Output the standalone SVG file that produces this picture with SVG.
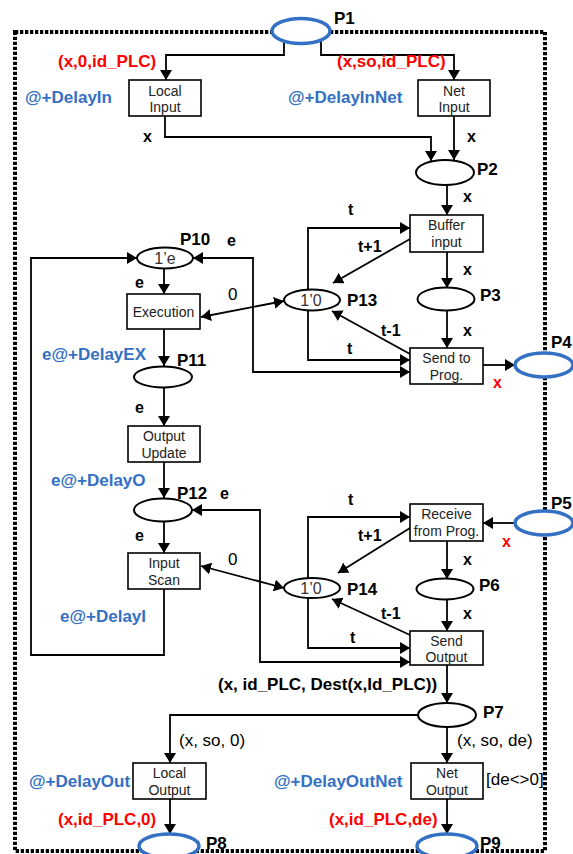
<svg xmlns="http://www.w3.org/2000/svg" width="573" height="854" viewBox="0 0 573 854">
<defs>
<marker id="ah" markerUnits="userSpaceOnUse" markerWidth="10" markerHeight="12" refX="10" refY="6" orient="auto-start-reverse"><path d="M0,0 L10,6 L0,12 z" fill="#000"/></marker>
<style>
text{font-family:"Liberation Sans",Arial,sans-serif}
.c{fill:none;stroke:#000;stroke-width:1.8}
.a{marker-end:url(#ah)}
.b{marker-start:url(#ah);marker-end:url(#ah)}
.box{fill:#fff;stroke:#000;stroke-width:1.6}
.bt{font-size:14px;fill:#222;text-anchor:middle}
.pl{fill:#fff;stroke:#000;stroke-width:2}
.pb{fill:#fff;stroke:#3470C4;stroke-width:3.5}
.pn{font-size:17px;font-weight:bold;fill:#000}
.tk{font-size:16px;fill:#333;text-anchor:middle}
.lb{font-size:16px;font-weight:bold;fill:#000}
.lr{font-size:17px;fill:#000}
.lB{font-size:17px;font-weight:bold;fill:#000}
.red{font-size:17px;font-weight:bold;fill:#FF0000}
.blue{font-size:17px;font-weight:bold;fill:#3470C4}
</style>
</defs>
<rect width="573" height="854" fill="#fff"/>
<rect id="border" x="15" y="32" width="530" height="819" fill="none" stroke="#000" stroke-width="4" stroke-dasharray="3.3 1.7"/>

<g id="connectors">
<path class="c a" d="M284,41 V55 H166 V80"/>
<path class="c a" d="M321,41 V55 H454 V80"/>
<path class="c a" d="M165,116 V137 H431 V161"/>
<path class="c a" d="M454,116 V160"/>
<path class="c a" d="M447,185 V215"/>
<path class="c a" d="M447,252 V288"/>
<path class="c a" d="M447,310 V348"/>
<path class="c a" d="M483,365 H515"/>
<path class="c a" d="M308,290 V228 H410"/>
<path class="c a" d="M410,239 L333,283"/>
<path class="c a" d="M410,354 L332,311"/>
<path class="c a" d="M308,310 V360 H410"/>
<path class="c b" d="M193,258 H253 V372 H410"/>
<path class="c b" d="M201,317 L284,301"/>
<path class="c a" d="M164,589 V655 H31 V258 H137"/>
<path class="c a" d="M164,268 V294"/>
<path class="c a" d="M164,329 V366"/>
<path class="c a" d="M164,388 V426"/>
<path class="c a" d="M164,462 V498"/>
<path class="c a" d="M164,522 V553"/>
<path class="c b" d="M192,510 H260 V662 H410"/>
<path class="c b" d="M201,566 L284,588"/>
<path class="c a" d="M308,578 V517 H410"/>
<path class="c a" d="M410,528 L338,573"/>
<path class="c a" d="M410,635 L332,599"/>
<path class="c a" d="M308,598 V648 H410"/>
<path class="c a" d="M515,523 H483"/>
<path class="c a" d="M447,541 V579"/>
<path class="c a" d="M447,600 V631"/>
<path class="c a" d="M447,665 V703"/>
<path class="c a" d="M418,715 H170 V763"/>
<path class="c a" d="M447,727 V763"/>
<path class="c a" d="M170,799 V834"/>
<path class="c a" d="M447,799 V834"/>
</g>

<g id="arc-labels">
<text class="red" x="58" y="67">(x,0,id_PLC)</text>
<text class="red" x="337" y="67">(x,so,id_PLC)</text>
<text class="blue" x="25" y="103">@+DelayIn</text>
<text class="blue" x="288" y="103">@+DelayInNet</text>
<text class="lb" x="143" y="142">x</text>
<text class="lb" x="467" y="142">x</text>
<text class="lb" x="463" y="202">x</text>
<text class="lb" x="348" y="215">t</text>
<text class="lb" x="358" y="252">t+1</text>
<text class="lb" x="463" y="275">x</text>
<text class="lb" x="381" y="336">t-1</text>
<text class="lb" x="463" y="336">x</text>
<text class="lb" x="347" y="354">t</text>
<text class="red" x="493" y="388" style="font-size:16px">x</text>
<text class="lb" x="227" y="246">e</text>
<text class="lb" x="135" y="288">e</text>
<text class="lr" x="228" y="300">0</text>
<text class="blue" x="42" y="360">e@+DelayEX</text>
<text class="lb" x="135" y="413">e</text>
<text class="blue" x="51" y="486">e@+DelayO</text>
<text class="lb" x="220" y="499">e</text>
<text class="lb" x="135" y="541">e</text>
<text class="lr" x="228" y="565">0</text>
<text class="blue" x="60" y="622">e@+DelayI</text>
<text class="lb" x="348" y="505">t</text>
<text class="red" x="502" y="547" style="font-size:16px">x</text>
<text class="lb" x="358" y="541">t+1</text>
<text class="lb" x="463" y="565">x</text>
<text class="lb" x="381" y="619">t-1</text>
<text class="lb" x="463" y="619">x</text>
<text class="lb" x="350" y="643">t</text>
<text class="lB" x="218" y="690">(x, id_PLC, Dest(x,Id_PLC))</text>
<text class="lr" x="179" y="746">(x, so, 0)</text>
<text class="lr" x="457" y="746">(x, so, de)</text>
<text class="blue" x="29" y="787">@+DelayOut</text>
<text class="blue" x="274" y="787">@+DelayOutNet</text>
<text class="lr" x="486" y="785">[de&lt;&gt;0]</text>
<text class="red" x="58" y="825">(x,id_PLC,0)</text>
<text class="red" x="329" y="825">(x,id_PLC,de)</text>
</g>

<g id="P1"><ellipse class="pb" cx="301" cy="31" rx="29" ry="12.5"/><text class="pn" x="334" y="24">P1</text></g>
<g id="P2"><ellipse class="pl" cx="445" cy="172.5" rx="29" ry="12.5"/><text class="pn" x="477" y="175">P2</text></g>
<g id="P3"><ellipse class="pl" cx="446" cy="299" rx="28.5" ry="11.5"/><text class="pn" x="480" y="301">P3</text></g>
<g id="P4"><ellipse class="pb" cx="544" cy="365" rx="29" ry="12"/><text class="pn" x="551" y="348">P4</text></g>
<g id="P5"><ellipse class="pb" cx="544" cy="523" rx="29" ry="12"/><text class="pn" x="551" y="509">P5</text></g>
<g id="P6"><ellipse class="pl" cx="445" cy="589" rx="28.5" ry="10.5"/><text class="pn" x="479" y="591">P6</text></g>
<g id="P7"><ellipse class="pl" cx="447" cy="715" rx="29" ry="12"/><text class="pn" x="483" y="718">P7</text></g>
<g id="P8"><ellipse class="pb" cx="169" cy="846" rx="30" ry="12"/><text class="pn" x="206" y="849">P8</text></g>
<g id="P9"><ellipse class="pb" cx="447" cy="846" rx="30" ry="12"/><text class="pn" x="480" y="849">P9</text></g>
<g id="P10"><ellipse class="pl" cx="165" cy="258" rx="28" ry="10.5"/><text class="tk" x="165" y="264">1’e</text><text class="pn" x="180" y="245">P10</text></g>
<g id="P11"><ellipse class="pl" cx="163" cy="377" rx="29" ry="10.5"/><text class="pn" x="177" y="366">P11</text></g>
<g id="P12"><ellipse class="pl" cx="163" cy="510" rx="29" ry="11.5"/><text class="pn" x="177" y="499">P12</text></g>
<g id="P13"><ellipse class="pl" cx="312" cy="300" rx="28" ry="10.5"/><text class="tk" x="311" y="306">1’0</text><text class="pn" x="347" y="306">P13</text></g>
<g id="P14"><ellipse class="pl" cx="312" cy="588" rx="28" ry="10"/><text class="tk" x="311" y="594">1’0</text><text class="pn" x="347" y="595">P14</text></g>

<g id="T-LocalInput"><rect class="box" x="129" y="80" width="72" height="36"/><text class="bt" x="165" y="96">Local</text><text class="bt" x="165" y="112">Input</text></g>
<g id="T-NetInput"><rect class="box" x="418" y="80" width="72" height="36"/><text class="bt" x="454" y="96">Net</text><text class="bt" x="454" y="112">Input</text></g>
<g id="T-BufferInput"><rect class="box" x="410" y="215" width="73" height="37"/><text class="bt" x="446.5" y="230">Buffer</text><text class="bt" x="446.5" y="247">input</text></g>
<g id="T-SendToProg"><rect class="box" x="410" y="348" width="73" height="36"/><text class="bt" x="446.5" y="363">Send to</text><text class="bt" x="446.5" y="380">Prog.</text></g>
<g id="T-Execution"><rect class="box" x="127" y="294" width="73" height="35"/><text class="bt" x="163.5" y="317">Execution</text></g>
<g id="T-OutputUpdate"><rect class="box" x="128" y="426" width="72" height="36"/><text class="bt" x="164" y="441">Output</text><text class="bt" x="164" y="458">Update</text></g>
<g id="T-InputScan"><rect class="box" x="128" y="553" width="72" height="36"/><text class="bt" x="164" y="568">Input</text><text class="bt" x="164" y="585">Scan</text></g>
<g id="T-Receive"><rect class="box" x="410" y="504" width="73" height="37"/><text class="bt" x="446.5" y="519">Receive</text><text class="bt" x="446.5" y="536">from Prog.</text></g>
<g id="T-SendOutput"><rect class="box" x="410" y="631" width="73" height="34"/><text class="bt" x="446.5" y="646">Send</text><text class="bt" x="446.5" y="662">Output</text></g>
<g id="T-LocalOutput"><rect class="box" x="133" y="763" width="73" height="36"/><text class="bt" x="169.5" y="778">Local</text><text class="bt" x="169.5" y="795">Output</text></g>
<g id="T-NetOutput"><rect class="box" x="411" y="763" width="72" height="36"/><text class="bt" x="447" y="778">Net</text><text class="bt" x="447" y="795">Output</text></g>
</svg>
